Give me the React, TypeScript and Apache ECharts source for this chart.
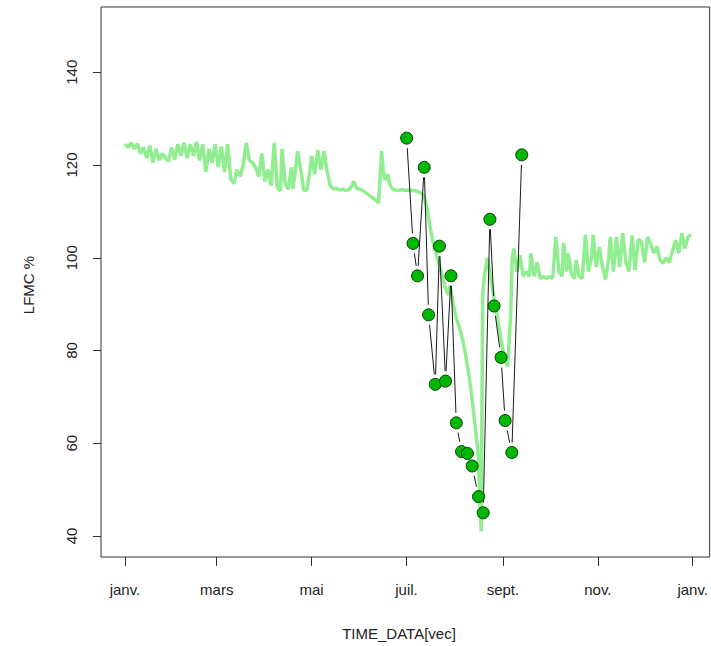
import React, { useEffect, useRef } from "react";
import * as echarts from "echarts";

const tickDays = [0, 59, 120, 181, 243, 304, 365];
const tickLabels = ["janv.", "mars", "mai", "juil.", "sept.", "nov.", "janv."];
const yTicks = [40, 60, 80, 100, 120, 140];

const lfmcDays = [
  0, 2, 4, 6, 8, 10, 12, 14, 16, 18, 20, 22, 24, 26, 28, 30,
  32, 34, 36, 38, 40, 42, 44, 46, 48, 50, 52, 54, 56, 58,
  60, 62, 64, 66, 68, 70, 72, 74, 76, 78, 80, 82, 84, 86, 88, 90,
  92, 94, 96, 98, 100, 101, 103, 105, 107, 108, 110, 111, 113, 115, 117, 119,
  120, 122, 124, 126, 128, 130, 132, 134, 136, 138, 140, 142, 144, 146, 147, 149, 151,
  153, 155, 157, 159, 161, 163, 164, 165, 166, 167, 169, 170, 172, 174, 176, 178, 180, 182, 184,
  186, 188, 190, 192, 194, 196, 198, 200, 202, 204, 206, 208, 209, 211, 213, 215, 217, 219, 221, 223, 225, 227, 229,
  230, 231, 233, 235, 237, 239, 241, 243, 246, 248, 249, 250, 252, 254, 256, 258, 260, 261, 263, 265, 267, 269, 271, 273, 275,
  277, 279, 281, 282, 284, 285, 287, 289, 290, 292, 294, 296, 298, 300, 301, 303, 305, 307, 309, 311, 312, 314, 316, 318, 320,
  322, 324, 326, 328, 330, 332, 334, 336, 338, 340, 342, 344, 346, 348, 350, 352, 354, 356, 358, 360, 362, 364,
];
const lfmcValues = [
  124.5, 123.8, 124.8, 123.5, 124.6, 122.5, 123.8, 121.5, 124.2, 120.5, 123.5, 121, 122.5, 121.5, 120.8, 123.8,
  121.2, 124.5, 122, 124.8, 121.5, 124.5, 122, 125, 121, 124.5, 118.5, 123.5, 120.5, 124.5,
  119.5, 124, 118.5, 124.5, 117, 116, 119, 117.5, 120, 124.8, 121, 120.5, 119.5, 117.5, 122.5, 116.5,
  119, 115.5, 124.8, 115, 114.5, 123.5, 116, 114.8, 119.5, 114.8, 120, 123, 119, 114.5, 114.6, 119,
  122, 118, 123.2, 119, 123, 118.5, 115.5, 114.8, 115, 114.6, 114.8, 114.5, 114.7, 115.5, 116.5, 115, 114.8,
  114.5, 114, 113.5, 113, 112.5, 111.8, 117, 123, 119, 116.8, 118, 116, 114.8, 114.6, 114.5, 114.7, 114.5, 114.6, 114.5,
  114.5, 114.3, 114, 113.5, 111, 107, 103.5, 101, 98.5, 96, 93.5, 92, 94, 90, 87, 85, 82.5, 79, 75, 70, 64, 58, 41,
  92, 96, 100, 96, 92, 88, 84, 80, 76.5, 88, 100, 102, 97, 100.5, 96, 97, 96, 101, 96, 99, 95.5, 96, 95.5, 96, 95.5,
  104.5, 97, 96, 103.2, 97, 101, 96.5, 95.5, 99.5, 96, 95.5, 105, 97, 100, 105, 98, 102.4, 98, 95.3, 100, 104.5, 97, 104.5, 98, 105.3,
  99, 97, 104.8, 97.4, 104, 103.5, 99, 104.5, 103, 101, 102.5, 99.5, 98.8, 100, 99, 101.5, 103.8, 101, 105.3, 102, 104.5, 105,
];

const pointDays = [
  181.1, 185.2, 188.1, 192.4, 195.2, 199.5, 202.2, 206.1, 209.6, 213.0, 216.4,
  220.2, 223.2, 227.3, 230.3, 234.6, 237.3, 241.8, 244.4, 248.7, 255.1,
];
const pointValues = [
  125.8, 103.1, 96.1, 119.5, 87.7, 72.7, 102.5, 73.4, 96.1, 64.4, 58.2,
  57.8, 55.1, 48.5, 45.0, 108.3, 89.6, 78.5, 64.9, 58.0, 122.2,
];

const FONT = "'Liberation Sans', Arial, sans-serif";

export default function App() {
  const ref = useRef<HTMLDivElement>(null);
  useEffect(() => {
    if (!ref.current) return;
    const chart = echarts.init(ref.current, undefined, { renderer: "svg" });
    const labelFor = (v: number) => {
      let best = 0;
      for (let i = 0; i < tickDays.length; i++) {
        if (Math.abs(tickDays[i] - v) < Math.abs(tickDays[best] - v)) best = i;
      }
      return tickLabels[best];
    };
    const segments = pointDays.slice(0, -1).map((d, i) => [
      d,
      pointValues[i],
      pointDays[i + 1],
      pointValues[i + 1],
    ]);
    const GAP = 10;
    chart.setOption({
      animation: false,
      backgroundColor: "#ffffff",
      grid: {
        left: 101,
        top: 7,
        right: 0,
        bottom: 89,
        show: true,
        borderColor: "#333333",
        borderWidth: 1,
        backgroundColor: "transparent",
      },
      xAxis: {
        type: "value",
        min: -15.4,
        max: 375.9,
        axisLine: { show: false, onZero: false },
        splitLine: { show: false },
        axisTick: {
          show: true,
          length: 9,
          customValues: tickDays,
          lineStyle: { color: "#333333", width: 1 },
        },
        axisLabel: {
          customValues: tickDays,
          formatter: (v: number) => labelFor(v),
          margin: 25,
          color: "#222222",
          fontSize: 15,
          fontFamily: FONT,
        },
      },
      yAxis: {
        type: "value",
        min: 35.47,
        max: 154.08,
        axisLine: { show: false, onZero: false },
        splitLine: { show: false },
        axisTick: {
          show: true,
          length: 8,
          customValues: yTicks,
          lineStyle: { color: "#333333", width: 1 },
        },
        axisLabel: {
          customValues: yTicks,
          rotate: 90,
          margin: 22,
          color: "#222222",
          fontSize: 15,
          fontFamily: FONT,
        },
      },
      graphic: [
        {
          type: "text",
          x: 28,
          y: 285,
          rotation: Math.PI / 2,
          style: {
            text: "LFMC %",
            fill: "#222222",
            font: `15px ${FONT}`,
            textAlign: "center",
            textVerticalAlign: "middle",
          },
        },
        {
          type: "text",
          x: 399,
          y: 633,
          style: {
            text: "TIME_DATA[vec]",
            fill: "#222222",
            font: `15px ${FONT}`,
            textAlign: "center",
            textVerticalAlign: "middle",
          },
        },
      ],
      series: [
        {
          type: "line",
          data: lfmcDays.map((d, i) => [d, lfmcValues[i]]),
          showSymbol: false,
          lineStyle: { color: "#90EE90", width: 3.5 },
          z: 1,
        },
        {
          type: "custom",
          data: segments,
          encode: { x: [0, 2], y: [1, 3] },
          z: 2,
          silent: true,
          renderItem: (params: any, api: any) => {
            const a = api.coord([api.value(0), api.value(1)]);
            const b = api.coord([api.value(2), api.value(3)]);
            const dx = b[0] - a[0];
            const dy = b[1] - a[1];
            const len = Math.sqrt(dx * dx + dy * dy);
            if (len <= 2 * GAP) return { type: "group", children: [] };
            const ux = dx / len;
            const uy = dy / len;
            return {
              type: "line",
              shape: {
                x1: a[0] + ux * GAP,
                y1: a[1] + uy * GAP,
                x2: b[0] - ux * GAP,
                y2: b[1] - uy * GAP,
              },
              style: { stroke: "#1a1a1a", lineWidth: 1 },
            };
          },
        },
        {
          type: "scatter",
          data: pointDays.map((d, i) => [d, pointValues[i]]),
          symbol: "circle",
          symbolSize: 12,
          itemStyle: { color: "#00B800", borderColor: "#0a3a0a", borderWidth: 1, opacity: 1 },
          z: 3,
        },
      ],
    });
    return () => chart.dispose();
  }, []);
  return (
    <div
      ref={ref}
      style={{ position: "fixed", left: 0, top: 0, width: 711, height: 646 }}
    />
  );
}
